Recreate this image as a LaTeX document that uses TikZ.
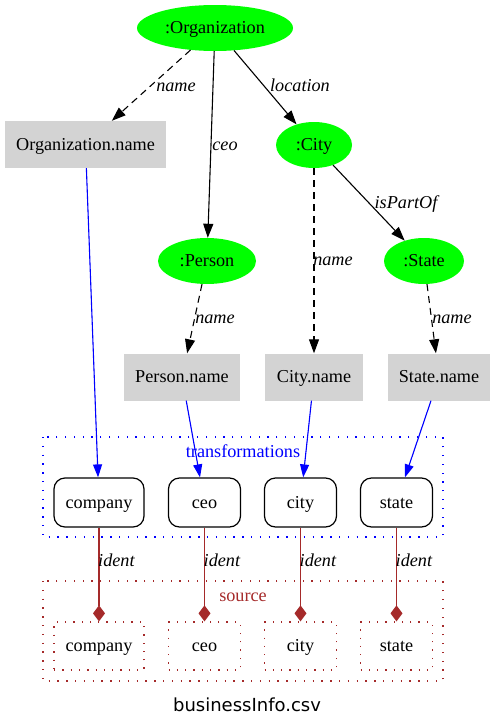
\documentclass[tikz,border=0pt]{standalone}
\usepackage{fontspec}
\setmainfont{Liberation Serif}
\newfontfamily\capfont{DejaVu Sans}
\usetikzlibrary{shapes.geometric,arrows.meta}
\definecolor{gvgreen}{HTML}{00FF00}
\definecolor{gvgray}{HTML}{D3D3D3}
\definecolor{gvbrown}{HTML}{A52A2A}
\definecolor{gvblue}{HTML}{0000FF}
\tikzset{
  x=1pt, y=-1pt,
  every node/.style={font=\fontsize{18.2}{21}\selectfont, inner sep=0pt, text height=11.8pt, text depth=0pt},
  cls/.style={ellipse, fill=gvgreen, minimum height=46pt},
  attr/.style={rectangle, fill=gvgray, minimum height=47pt},
  trans/.style={rectangle, rounded corners=11pt, draw=black, line width=1.2pt, minimum height=49pt},
  srcbox/.style={rectangle, draw=gvbrown, line width=1.2pt, dash pattern=on 1.3pt off 7pt, minimum height=48pt},
  elabel/.style={font=\fontsize{18.2}{21}\selectfont\itshape, text height=9pt, text depth=0pt},
  arr/.style={-{Triangle[length=14pt,width=10pt]}, line width=1.1pt},
  blueedge/.style={-{Triangle[length=13pt,width=9pt]}, draw=gvblue, fill=gvblue, line width=1.1pt},
  identedge/.style={-{Diamond[length=16pt,width=12pt]}, draw=gvbrown, fill=gvbrown, line width=1.1pt},
  dash1/.style={dash pattern=on 7pt off 5pt},
  cluster/.style={line width=1.2pt, dash pattern=on 1.3pt off 7.5pt},
}
\begin{document}
\begin{tikzpicture}
\useasboundingbox (0,0) rectangle (496,728);
% clusters
\draw[cluster, gvblue] (43,437) rectangle (443,537);
\node[text=gvblue] (tlab) at (243,452) {transformations};
\draw[cluster, gvbrown] (43,581) rectangle (443,681);
\node[text=gvbrown] (slab) at (243,596) {source};

% class nodes
\node[cls, minimum width=156pt] (org) at (215,28) {:Organization};
\node[cls, minimum width=76pt] (city) at (314,145) {:City};
\node[cls, minimum width=98pt] (person) at (207,261) {:Person};
\node[cls, minimum width=80pt] (state) at (424,261) {:State};

% attribute nodes
\node[attr, minimum width=161pt] (orgname) at (85.5,144.5) {Organization.name};
\node[attr, minimum width=116pt] (personname) at (182,377) {Person.name};
\node[attr, minimum width=98pt] (cityname) at (314,377) {City.name};
\node[attr, minimum width=102pt] (statename) at (439,377) {State.name};

% transformation nodes
\node[trans, minimum width=90pt] (tcompany) at (99,502.5) {company};
\node[trans, minimum width=72pt] (tceo) at (204.5,502.5) {ceo};
\node[trans, minimum width=72pt] (tcity) at (300.5,502.5) {city};
\node[trans, minimum width=72pt] (tstate) at (396.5,502.5) {state};

% source nodes
\node[srcbox, minimum width=90pt] (scompany) at (99,646) {company};
\node[srcbox, minimum width=72pt] (sceo) at (204.5,646) {ceo};
\node[srcbox, minimum width=72pt] (scity) at (300.5,646) {city};
\node[srcbox, minimum width=72pt] (sstate) at (396.5,646) {state};

% ontology edges
\draw[arr, dash1] (org) -- (orgname);
\node[elabel] (l1) at (176,87) {name};
\draw[arr] (org) -- (person);
\node[elabel] (l2) at (225,145.5) {ceo};
\draw[arr] (org) -- (city);
\node[elabel] (l3) at (300,87) {location};
\draw[arr, dash1] (city) -- (cityname);
\node[elabel] (l4) at (333,260.5) {name};
\draw[arr] (city) -- (state);
\node[elabel] (l5) at (406,203.5) {isPartOf};
\draw[arr, dash1] (person) -- (personname);
\node[elabel] (l6) at (215,319) {name};
\draw[arr, dash1] (state) -- (statename);
\node[elabel] (l7) at (452,319) {name};

% mapping edges
\draw[blueedge] (orgname) -- (tcompany);
\draw[blueedge] (personname) -- (tceo);
\draw[blueedge] (cityname) -- (tcity);
\draw[blueedge] (statename) -- (tstate);

% ident edges
\draw[identedge] (tcompany) -- (scompany);
\node[elabel, anchor=west] (i1) at (98,562) {ident};
\draw[identedge] (tceo) -- (sceo);
\node[elabel, anchor=west] (i2) at (203.5,562) {ident};
\draw[identedge] (tcity) -- (scity);
\node[elabel, anchor=west] (i3) at (299.5,562) {ident};
\draw[identedge] (tstate) -- (sstate);
\node[elabel, anchor=west] (i4) at (395.5,562) {ident};

\node[font=\capfont\fontsize{18}{21}\selectfont, text height=13.4pt] (cap) at (247,705) {businessInfo.csv};
\end{tikzpicture}
\end{document}
